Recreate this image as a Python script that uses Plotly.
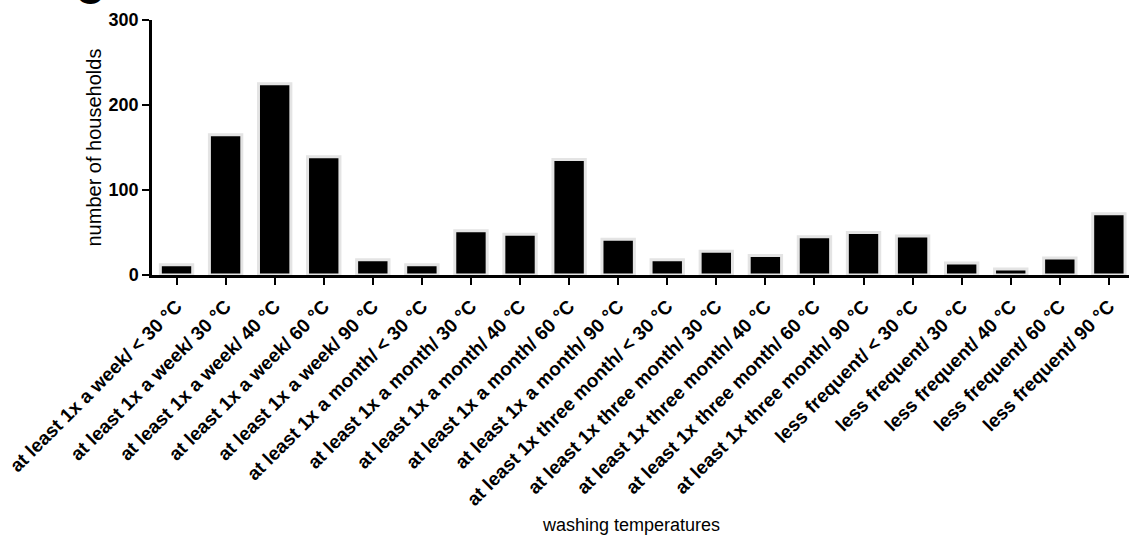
import plotly.graph_objects as go

# Washing frequency / temperature categories
categories = [
    "at least 1x a week/ < 30 °C",
    "at least 1x a week/ 30 °C",
    "at least 1x a week/ 40 °C",
    "at least 1x a week/ 60 °C",
    "at least 1x a week/ 90 °C",
    "at least 1x a month/ < 30 °C",
    "at least 1x a month/ 30 °C",
    "at least 1x a month/ 40 °C",
    "at least 1x a month/ 60 °C",
    "at least 1x a month/ 90 °C",
    "at least 1x three month/ < 30 °C",
    "at least 1x three month/ 30 °C",
    "at least 1x three month/ 40 °C",
    "at least 1x three month/ 60 °C",
    "at least 1x three month/ 90 °C",
    "less frequent/ < 30 °C",
    "less frequent/ 30 °C",
    "less frequent/ 40 °C",
    "less frequent/ 60 °C",
    "less frequent/ 90 °C",
]

households = [12, 165, 225, 139, 18, 12, 52, 48, 136, 42,
              18, 28, 23, 45, 50, 46, 14, 7, 20, 72]

y_ticks = [0, 100, 200, 300]

FONT = "Liberation Sans, Arial, sans-serif"

W, H = 1129, 536
ML, MR, MT, MB = 152, 0, 20, 261
plot_w = W - ML - MR

x_pos = list(range(len(categories)))

fig = go.Figure()
fig.add_trace(go.Bar(
    x=x_pos,
    y=households,
    width=0.66,
    marker=dict(color="black", line=dict(color="#e4e4e4", width=3)),
    showlegend=False,
))

fig.update_layout(
    width=W,
    height=H,
    margin=dict(l=ML, r=MR, t=MT, b=MB),
    plot_bgcolor="white",
    paper_bgcolor="white",
    font=dict(family=FONT, color="black"),
    bargap=0.34,
    xaxis=dict(
        range=[-0.5, 19.41],
        tickmode="array",
        tickvals=x_pos,
        ticktext=categories,
        tickangle=-45,
        tickfont=dict(size=19, weight="bold", family=FONT),
        ticklabelstandoff=3,
        ticks="outside",
        ticklen=7,
        tickwidth=2,
        tickcolor="black",
        showline=True,
        linecolor="black",
        linewidth=2.5,
        showgrid=False,
        zeroline=False,
    ),
    yaxis=dict(
        range=[0, 300],
        tickmode="array",
        tickvals=y_ticks,
        tickfont=dict(size=18, weight="bold", family=FONT),
        ticks="outside",
        ticklen=7,
        tickwidth=2,
        tickcolor="black",
        showline=True,
        linecolor="black",
        linewidth=2.5,
        showgrid=False,
        zeroline=False,
    ),
    annotations=[
        dict(
            text="number of households",
            xref="paper", yref="paper",
            x=(93 - ML) / plot_w, y=0.5,
            xanchor="center", yanchor="middle",
            textangle=-90,
            showarrow=False,
            font=dict(size=20, family=FONT),
        ),
        dict(
            text="washing temperatures",
            xref="paper", yref="paper",
            x=(631 - ML) / plot_w, y=-(525 - (H - MB)) / (H - MT - MB),
            xanchor="center", yanchor="middle",
            showarrow=False,
            font=dict(size=18, family=FONT),
        ),
        # panel letter, mostly outside the page top
        dict(
            text="<b>C</b>",
            xref="paper", yref="paper",
            x=(89 - ML) / plot_w, y=1,
            xanchor="center", yanchor="bottom",
            yshift=6,
            showarrow=False,
            font=dict(size=40, family=FONT),
        ),
    ],
)

fig.write_html("out.html")
